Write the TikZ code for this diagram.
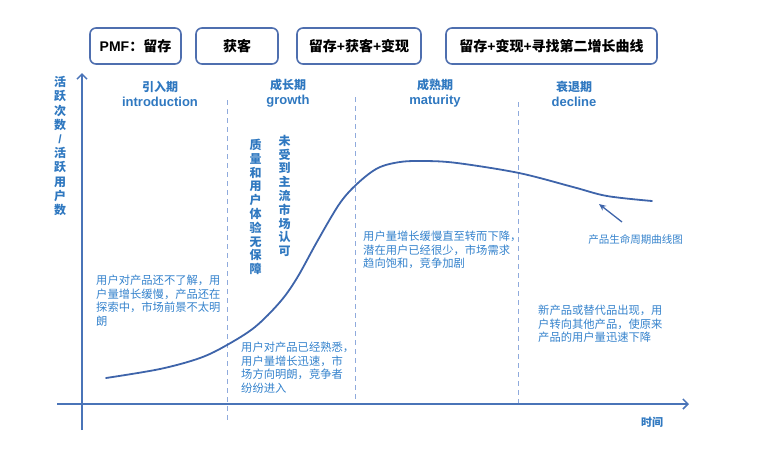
\documentclass[tikz,border=0pt]{standalone}
\usepackage{fontspec}
\setmainfont{Noto Sans CJK SC}
\newfontfamily\lat{Liberation Sans}
\usetikzlibrary{arrows.meta}
\definecolor{txtblue}{HTML}{2F78C0}
\definecolor{desctxt}{HTML}{3482CC}
\definecolor{axisblue}{HTML}{4A74B8}
\definecolor{boxblue}{HTML}{4F6FAF}
\definecolor{curveblue}{HTML}{3E64AA}
\definecolor{dashblue}{HTML}{8FAADC}
\begin{document}
\begin{tikzpicture}[x=1pt,y=-1pt,
  topbox/.style={draw=boxblue, line width=1.6pt, rounded corners=6pt, minimum height=36pt, inner sep=0pt, font=\bfseries\fontsize{14}{16}\selectfont},
  phase/.style={text=txtblue, align=center, inner sep=0pt, font=\bfseries\fontsize{12}{15}\selectfont},
  vtext/.style={text=txtblue, align=center, inner sep=0pt, font=\bfseries\fontsize{12}{13.8}\selectfont},
  desc/.style={text=desctxt, align=left, inner sep=0pt, anchor=north west, font=\fontsize{11.3}{13.8}\selectfont},
  axis/.style={draw=axisblue, line width=1.8pt, -{Straight Barb[length=5pt,width=10pt,line width=1.5pt]}},
  phaseline/.style={draw=dashblue, line width=1pt, dash pattern=on 5pt off 4pt}
]
\useasboundingbox (0,0) rectangle (764,451);

% top boxes
\node[topbox, minimum width=91pt] (b1) at (135.5,46) {{\lat PMF}：留存};
\node[topbox, minimum width=82pt] (b2) at (237,46) {获客};
\node[topbox, minimum width=124pt] (b3) at (359,46) {留存{\lat +}获客{\lat +}变现};
\node[topbox, minimum width=211pt] (b4) at (551.5,46) {留存{\lat +}变现{\lat +}寻找第二增长曲线};

% dashed phase separators
\coordinate (d1t) at (227,100); \coordinate (d1b) at (227,420);
\coordinate (d2t) at (355,97);  \coordinate (d2b) at (355,405);
\coordinate (d3t) at (518,102); \coordinate (d3b) at (518,405);
\draw[phaseline] (d1t) -- (d1b);
\draw[phaseline] (d2t) -- (d2b);
\draw[phaseline] (d3t) -- (d3b);

% axes
\coordinate (ybot) at (82,430); \coordinate (ytop) at (82,73);
\coordinate (xl) at (57,404); \coordinate (xr) at (689,404);
\draw[axis] (ybot) -- (ytop);
\draw[axis] (xl) -- (xr);

% axis labels
\node[vtext, font=\bfseries\fontsize{12}{14.2}\selectfont] (ylab) at (60,146) {活\\跃\\次\\数\\{\lat /}\\活\\跃\\用\\户\\数};
\node[text=txtblue, inner sep=0pt, font=\bfseries\fontsize{11}{13}\selectfont] (xlab) at (652,422) {时间};

% phase labels
\node[phase] (p1) at (160,93.5) {引入期\\{\lat\fontsize{13}{15}\selectfont introduction}};
\node[phase] (p2) at (288,93.5) {成长期\\{\lat\fontsize{13}{15}\selectfont growth}};
\node[phase] (p3) at (435,93.5) {成熟期\\{\lat\fontsize{13}{15}\selectfont maturity}};
\node[phase] (p4) at (574,93.5) {衰退期\\{\lat\fontsize{13}{15}\selectfont decline}};

% vertical texts
\node[vtext] (v1) at (255.5,207) {质\\量\\和\\用\\户\\体\\验\\无\\保\\障};
\node[vtext] (v2) at (284.5,196) {未\\受\\到\\主\\流\\市\\场\\认\\可};

% curve
\draw[curveblue, line width=1.8pt, line cap=round] plot[smooth, tension=0.55] coordinates {
 (106,378) (160,369) (200,358) (227,345) (255,327) (280,302) (297,278) (318,240)
 (340,203) (358,183) (378,168) (400,162) (425,161) (457,163) (519,173) (573,187) (607,196) (652,201)};

% descriptions
\node[desc] (t1) at (96,274.5) {用户对产品还不了解，用\\户量增长缓慢，产品还在\\探索中，市场前景不太明\\朗};
\node[desc] (t2) at (241,341.5) {用户对产品已经熟悉，\\用户量增长迅速，市\\场方向明朗，竞争者\\纷纷进入};
\node[desc] (t3) at (363,230.5) {用户量增长缓慢直至转而下降，\\潜在用户已经很少，市场需求\\趋向饱和，竞争加剧};
\node[desc] (t4) at (538,304.5) {新产品或替代品出现，用\\户转向其他产品，使原来\\产品的用户量迅速下降};

% curve annotation
\node[text=desctxt, inner sep=0pt, font=\fontsize{10.5}{12}\selectfont] (clab) at (635.5,239) {产品生命周期曲线图};
\coordinate (ast) at (622,222);
\coordinate (aen) at (599,204);
\draw[draw=curveblue, line width=1.3pt, -{Stealth[length=7pt,width=6pt]}] (ast) -- (aen);
\end{tikzpicture}
\end{document}
